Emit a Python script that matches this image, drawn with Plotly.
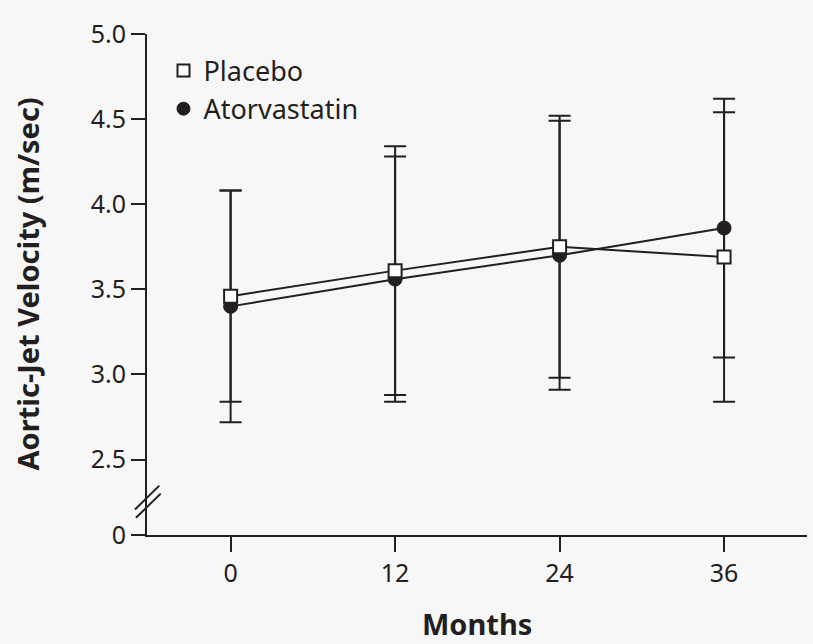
import plotly.graph_objects as go

# ---- data ----
months = [0, 12, 24, 36]
placebo_mean = [3.46, 3.61, 3.75, 3.69]
placebo_sd = [0.62, 0.73, 0.77, 0.85]
atorva_mean = [3.40, 3.56, 3.70, 3.86]
atorva_sd = [0.68, 0.72, 0.79, 0.76]
y_tick_vals = [2.057, 2.5, 3.0, 3.5, 4.0, 4.5, 5.0]
y_tick_text = ["0", "2.5", "3.0", "3.5", "4.0", "4.5", "5.0"]
x_tick_vals = [0, 12, 24, 36]
x_tick_text = ["0", "12", "24", "36"]

INK = "#231f20"
BG = "#f7f7f7"
FONT = "Noto Sans"

fig = go.Figure()

err = dict(type="data", visible=True, color=INK, thickness=2, width=11)

fig.add_trace(go.Scatter(
    x=months, y=atorva_mean, mode="lines+markers", showlegend=False,
    line=dict(color=INK, width=2),
    marker=dict(symbol="circle", size=14, color=INK, line=dict(color=INK, width=1)),
    error_y=dict(array=atorva_sd, **err),
))
fig.add_trace(go.Scatter(
    x=months, y=placebo_mean, mode="lines+markers", showlegend=False,
    line=dict(color=INK, width=2),
    marker=dict(symbol="square", size=13, color="white", line=dict(color=INK, width=2)),
    error_y=dict(array=placebo_sd, **err),
))
# legend entries (marker only)
fig.add_trace(go.Scatter(
    x=[None], y=[None], mode="markers", name="Placebo",
    marker=dict(symbol="square", size=12, color="white", line=dict(color=INK, width=2)),
))
fig.add_trace(go.Scatter(
    x=[None], y=[None], mode="markers", name="Atorvastatin",
    marker=dict(symbol="circle", size=13, color=INK, line=dict(color=INK, width=1)),
))

W, H = 813, 644
L, R, T, B = 147, 6, 34, 109
pw = W - L - R

def px2paper_x(px):
    return (px - L) / pw

# axis break slashes
for (x0, y0, x1, y1) in [(135, 2.207, 159.3, 2.347), (136, 2.158, 160.7, 2.300)]:
    fig.add_shape(type="line", xref="paper", yref="y",
                  x0=px2paper_x(x0), y0=y0, x1=px2paper_x(x1), y1=y1,
                  line=dict(color=INK, width=2))

fig.update_layout(
    width=W, height=H,
    margin=dict(l=L, r=R, t=T, b=B),
    paper_bgcolor=BG, plot_bgcolor=BG,
    font=dict(family=FONT, size=25, color=INK),
    showlegend=True,
    legend=dict(x=0.025, y=0.975, xanchor="left", yanchor="top",
                bgcolor="rgba(0,0,0,0)", font=dict(size=27, color=INK),
                itemwidth=30, tracegroupgap=0),
    xaxis=dict(range=[-6.1, 42.05], tickvals=x_tick_vals, ticktext=x_tick_text,
               showgrid=False, zeroline=False, showline=True, linecolor=INK, linewidth=2,
               ticks="outside", ticklen=15, tickwidth=2, tickcolor=INK,
               tickfont=dict(size=25, color=INK)),
    yaxis=dict(range=[2.057, 5.0], tickvals=y_tick_vals, ticktext=y_tick_text,
               showgrid=False, zeroline=False, showline=True, linecolor=INK, linewidth=2,
               ticks="outside", ticklen=14, tickwidth=2, tickcolor=INK,
               tickfont=dict(size=25, color=INK)),
    annotations=[
        dict(text="<b>Months</b>", xref="paper", yref="paper", x=0.5, y=-0.176,
             xanchor="center", yanchor="middle", showarrow=False,
             font=dict(size=29, color=INK, family=FONT)),
        dict(text="<b>Aortic-Jet Velocity (m/sec)</b>", xref="paper", yref="paper",
             x=px2paper_x(27), y=0.5, xanchor="center", yanchor="middle",
             textangle=-90, showarrow=False,
             font=dict(size=29, color=INK, family=FONT)),
    ],
)

fig.write_html(
    "out.html",
    config={"displayModeBar": False},
    post_script="document.body.style.margin='0';document.body.style.background='#f7f7f7';",
)
